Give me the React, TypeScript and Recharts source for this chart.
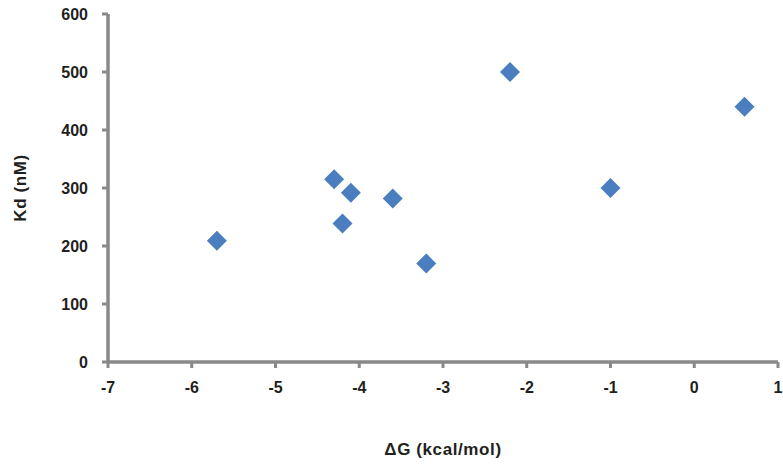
import React from 'react';
import { ScatterChart, Scatter, XAxis, YAxis } from 'recharts';

const deltaG = [-5.7, -4.3, -4.1, -4.2, -3.6, -3.2, -2.2, -1.0, 0.6];
const kd = [209, 315, 292, 239, 282, 170, 500, 300, 440];
const xTicks = [-7, -6, -5, -4, -3, -2, -1, 0, 1];
const yTicks = [0, 100, 200, 300, 400, 500, 600];

const data = deltaG.map((x, i) => ({ x, y: kd[i] }));

const FONT = '"Liberation Sans", Arial, Helvetica, sans-serif';
const TEXT = '#231f20';
const AXIS = '#898989';
const BLUE = '#4a7ebf';

const Diamond = (props: any) => {
  const { cx, cy } = props;
  const r = 10;
  return (
    <polygon
      points={`${cx},${cy - r} ${cx + r},${cy} ${cx},${cy + r} ${cx - r},${cy}`}
      fill={BLUE}
      strokeLinejoin="round"
    />
  );
};

export default function App() {
  return (
    <div style={{ position: 'absolute', left: 0, top: 0, background: '#fff' }}>
      <ScatterChart
        width={783}
        height={468}
        margin={{ top: 14, right: 5, bottom: 0, left: 0 }}
      >
        <XAxis
          type="number"
          dataKey="x"
          domain={[-7, 1]}
          ticks={xTicks}
          interval={0}
          allowDataOverflow
          height={106}
          axisLine={{ stroke: AXIS, strokeWidth: 3.5 }}
          tickLine={{ stroke: AXIS, strokeWidth: 3 }}
          tickSize={6}
          tickMargin={14}
          tick={{ fill: TEXT, fontSize: 16, fontWeight: 'bold', fontFamily: FONT }}
          label={{
            content: (p: any) => {
              const vb = p.viewBox;
              return (
                <text
                  x={vb.x + vb.width / 2}
                  y={vb.y + vb.height - 13}
                  textAnchor="middle"
                  fill={TEXT}
                  fontSize={17}
                  fontWeight="bold"
                  letterSpacing={0.6}
                  fontFamily={FONT}
                >
                  ΔG (kcal/mol)
                </text>
              );
            },
          }}
        />
        <YAxis
          type="number"
          dataKey="y"
          domain={[0, 600]}
          ticks={yTicks}
          interval={0}
          allowDataOverflow
          width={108}
          axisLine={{ stroke: AXIS, strokeWidth: 3.5 }}
          tickLine={{ stroke: AXIS, strokeWidth: 3 }}
          tickSize={6}
          tickMargin={14}
          tick={{ fill: TEXT, fontSize: 16, fontWeight: 'bold', fontFamily: FONT }}
          label={{
            content: (p: any) => {
              const vb = p.viewBox;
              const cx = vb.x + 20;
              const cy = vb.y + vb.height / 2;
              return (
                <text
                  x={cx}
                  y={cy}
                  transform={`rotate(-90, ${cx}, ${cy})`}
                  textAnchor="middle"
                  dominantBaseline="central"
                  fill={TEXT}
                  fontSize={17}
                  fontWeight="bold"
                  letterSpacing={0.6}
                  fontFamily={FONT}
                >
                  Kd (nM)
                </text>
              );
            },
          }}
        />
        <Scatter data={data} shape={<Diamond />} isAnimationActive={false} />
      </ScatterChart>
    </div>
  );
}
